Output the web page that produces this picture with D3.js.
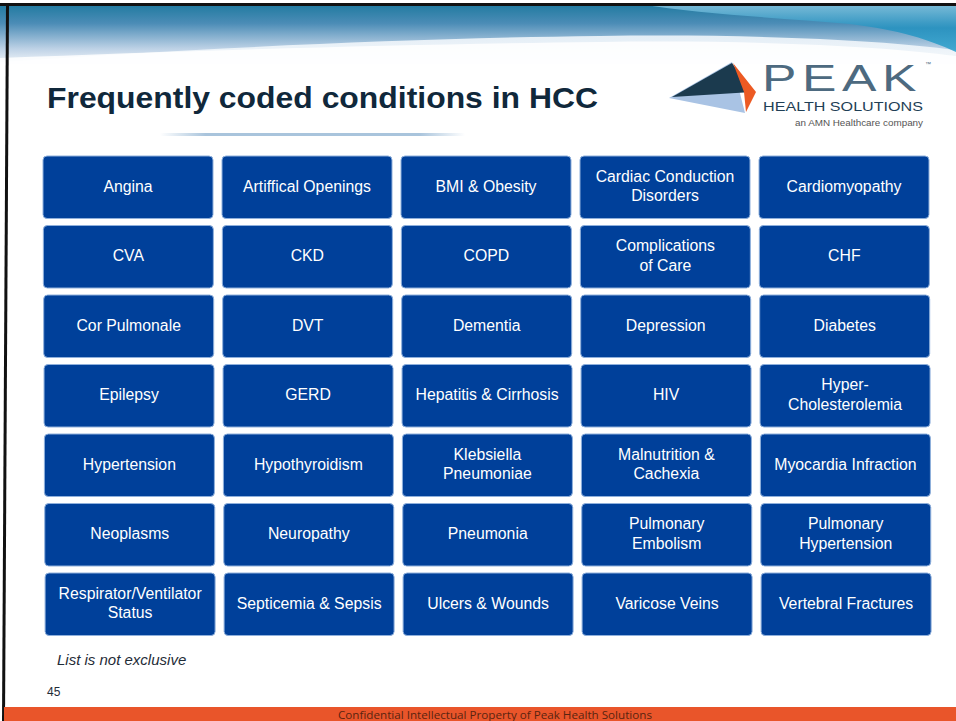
<!DOCTYPE html>
<html><head><meta charset="utf-8">
<script src="https://cdn.jsdelivr.net/npm/d3@7"></script>
<style>html,body{margin:0;padding:0;background:#fff;overflow:hidden}svg{display:block}</style>
</head><body>
<script>
// ---- data ----
const title = "Frequently coded conditions in HCC";
const conditions = [
  "Angina","Artiffical Openings","BMI & Obesity","Cardiac Conduction\nDisorders","Cardiomyopathy",
  "CVA","CKD","COPD","Complications\nof Care","CHF",
  "Cor Pulmonale","DVT","Dementia","Depression","Diabetes",
  "Epilepsy","GERD","Hepatitis & Cirrhosis","HIV","Hyper-\nCholesterolemia",
  "Hypertension","Hypothyroidism","Klebsiella\nPneumoniae","Malnutrition &\nCachexia","Myocardia Infraction",
  "Neoplasms","Neuropathy","Pneumonia","Pulmonary\nEmbolism","Pulmonary\nHypertension",
  "Respirator/Ventilator\nStatus","Septicemia & Sepsis","Ulcers & Wounds","Varicose Veins","Vertebral Fractures"
];
const nCols = 5, nRows = 7;
const note = "List is not exclusive";
const pageNo = "45";
const footer = "Confidential Intellectual Property of Peak Health Solutions";

const W = 956, H = 721;
const svg = d3.select("body").append("svg").attr("width", W).attr("height", H);
const defs = svg.append("defs");

// gradients
const g1 = defs.append("linearGradient").attr("id","sky").attr("x1",0).attr("y1",0).attr("x2",0).attr("y2",1);
g1.append("stop").attr("offset",0).attr("stop-color","#1f7aa0");
g1.append("stop").attr("offset",0.3).attr("stop-color","#4b8cb6");
g1.append("stop").attr("offset",0.7).attr("stop-color","#bed2e6");
g1.append("stop").attr("offset",1).attr("stop-color","#ffffff");
const g2 = defs.append("linearGradient").attr("id","swoosh").attr("x1",0).attr("y1",0).attr("x2",0).attr("y2",1);
g2.append("stop").attr("offset",0).attr("stop-color","#e4eef6");
g2.append("stop").attr("offset",1).attr("stop-color","#ffffff");
const g3 = defs.append("linearGradient").attr("id","teal").attr("x1",0).attr("y1",0).attr("x2",0).attr("y2",1);
g3.append("stop").attr("offset",0).attr("stop-color","#8cc8e2");
g3.append("stop").attr("offset",0.5).attr("stop-color","#2492c0");
g3.append("stop").attr("offset",1).attr("stop-color","#2aa0cc");
const g4 = defs.append("linearGradient").attr("id","rule").attr("x1",0).attr("y1",0).attr("x2",1).attr("y2",0);
g4.append("stop").attr("offset",0).attr("stop-color","#a9c4dc").attr("stop-opacity",0);
g4.append("stop").attr("offset",0.15).attr("stop-color","#a9c4dc").attr("stop-opacity",1);
g4.append("stop").attr("offset",0.85).attr("stop-color","#a9c4dc").attr("stop-opacity",1);
g4.append("stop").attr("offset",1).attr("stop-color","#a9c4dc").attr("stop-opacity",0);

// header swoosh
svg.append("rect").attr("x",0).attr("y",4).attr("width",W).attr("height",64).attr("fill","url(#sky)");
svg.append("path").attr("d","M0,62 C200,48 420,38 600,36 C760,34 880,40 956,50 L956,80 L0,80 Z").attr("fill","url(#swoosh)");
svg.append("path").attr("d","M640,4 L956,4 L956,52 C930,40 900,30 850,24 C780,18 700,14 640,4 Z").attr("fill","url(#teal)").attr("opacity",0.85);
svg.append("rect").attr("x",0).attr("y",64).attr("width",W).attr("height",20).attr("fill","#fff");
svg.append("path").attr("d","M0,58 C200,50 420,44 600,42 C760,40 880,46 956,56 L956,66 L0,66 Z").attr("fill","#fff").attr("opacity",0.85);

// frame lines
svg.append("rect").attr("x",0).attr("y",3).attr("width",W).attr("height",3).attr("fill","#111");
svg.append("path").attr("d","M6,4 L9,4 L5,721 L2,721 Z").attr("fill","#111");

// title
svg.append("text").attr("x",47).attr("y",108).text(title)
  .attr("font-family","Liberation Sans, Arial, sans-serif").attr("font-weight","bold")
  .attr("font-size",30).attr("fill","#10283b")
  .attr("textLength",551).attr("lengthAdjust","spacingAndGlyphs");
svg.append("rect").attr("x",160).attr("y",133).attr("width",305).attr("height",3).attr("fill","url(#rule)");

// logo
const logo = svg.append("g");
logo.append("path").attr("d","M669,98 L732,62 L745,113 Z").attr("fill","#a9c3e4");
logo.append("path").attr("d","M672,97 L732,63 L752,92 Z").attr("fill","#1b3a4e");
logo.append("path").attr("d","M733,63 L756,92 L746,112 L744,92 Z").attr("fill","#ec5a23");
logo.append("text").attr("x",762).attr("y",91).text("PEAK")
  .attr("font-family","Liberation Sans, Arial, sans-serif").attr("font-size",37)
  .attr("letter-spacing",4)
  .attr("fill","#4d6a80").attr("textLength",160).attr("lengthAdjust","spacingAndGlyphs");
logo.append("text").attr("x",925).attr("y",66).text("™").attr("font-size",6).attr("fill","#4d6a80")
  .attr("font-family","Liberation Sans, Arial, sans-serif");
logo.append("text").attr("x",763).attr("y",111).text("HEALTH SOLUTIONS")
  .attr("font-family","Liberation Sans, Arial, sans-serif").attr("font-size",13.5)
  .attr("fill","#1f3f56").attr("textLength",160).attr("lengthAdjust","spacingAndGlyphs");
logo.append("text").attr("x",923).attr("y",126).attr("text-anchor","end").text("an AMN Healthcare company")
  .attr("font-family","Liberation Sans, Arial, sans-serif").attr("font-size",9.5)
  .attr("fill","#555").attr("textLength",128).attr("lengthAdjust","spacingAndGlyphs");

// tiles
const x = d3.scaleBand().domain(d3.range(nCols)).range([43, 43 + 179*nCols - 9]).paddingInner(9/179).paddingOuter(0).align(0);
const y = d3.scaleBand().domain(d3.range(nRows)).range([156, 156 + 69.5*nRows - 7.5]).paddingInner(7.5/69.5).paddingOuter(0).align(0);

const tiles = svg.append("g").selectAll("g").data(conditions).join("g")
  .attr("transform",(d,i)=>{
    const r = Math.floor(i/nCols), c = i % nCols;
    return `translate(${x(c) + r*0.35},${y(r)})`;
  });
tiles.append("rect").attr("width",x.bandwidth()).attr("height",y.bandwidth()+0.5)
  .attr("rx",4).attr("fill","#00409a").attr("stroke","#8fb0dc").attr("stroke-width",1);
tiles.each(function(d){
  const lines = d.split("\n");
  const g = d3.select(this);
  const cx = x.bandwidth()/2, cy = y.bandwidth()/2;
  const lh = 19.5;
  lines.forEach((ln,k)=>{
    g.append("text").attr("x",cx).attr("y",cy - 1 + (k-(lines.length-1)/2)*lh)
      .attr("dy","0.36em").attr("text-anchor","middle").text(ln)
      .attr("font-family","Liberation Sans, Arial, sans-serif").attr("font-size",15.8).attr("fill","#fff");
  });
});

// note + page number
svg.append("text").attr("x",57).attr("y",665).text(note)
  .attr("font-family","Liberation Sans, Arial, sans-serif").attr("font-style","italic")
  .attr("font-size",15).attr("fill","#1f2c38");
svg.append("text").attr("x",47).attr("y",696).text(pageNo)
  .attr("font-family","Liberation Sans, Arial, sans-serif").attr("font-size",12).attr("fill","#1f2c38");

// footer bar
svg.append("rect").attr("x",4).attr("y",707).attr("width",W-4).attr("height",14).attr("fill","#e9552a");
svg.append("text").attr("x",495).attr("y",719).attr("text-anchor","middle").text(footer)
  .attr("font-family","Open Sans, sans-serif").attr("font-size",11).attr("fill","#5a2410")
  .attr("textLength",314).attr("lengthAdjust","spacingAndGlyphs");
</script>
</body></html>
